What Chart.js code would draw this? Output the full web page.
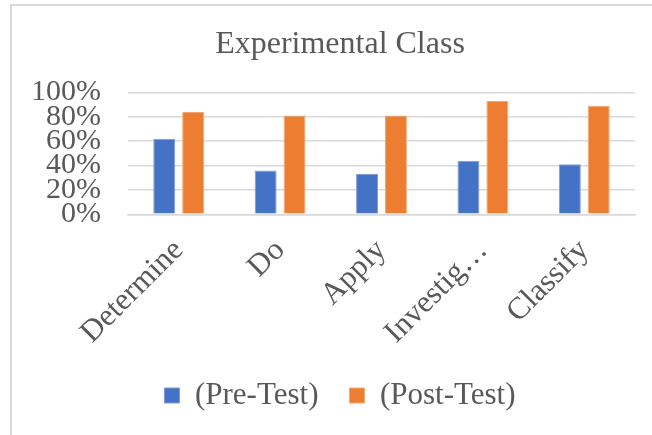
<!DOCTYPE html>
<html>
<head>
<meta charset="utf-8">
<script src="https://cdn.jsdelivr.net/npm/chart.js@4"></script>
<style>
  body { margin: 0; background: #fff; }
  #frame {
    position: absolute; left: 10px; top: 4px; width: 700px; height: 500px;
    border: 2px solid #d9d9d9;
  }
  #chart { position: absolute; left: 0; top: 0; }
</style>
</head>
<body>
<div id="frame"></div>
<canvas id="chart" width="652" height="435"></canvas>
<script>
const categories = ["Determine", "Do", "Apply", "Investig…", "Classify"];
const preTest = [62, 36, 33, 44, 41];
const postTest = [84, 81, 81, 93, 89];
const yTicks = [0, 20, 40, 60, 80, 100];

Chart.defaults.font.family = "'Liberation Serif', 'Times New Roman', serif";
Chart.defaults.color = "#595959";

const ctx = document.getElementById("chart").getContext("2d");

new Chart(ctx, {
  type: "bar",
  data: {
    labels: categories,
    datasets: [
      {
        label: "(Pre-Test)",
        data: preTest,
        backgroundColor: "#4472C4",
        borderColor: "#7f9bd6",
        borderWidth: 1,
        categoryPercentage: 0.57,
        barPercentage: 0.76,
      },
      {
        label: "(Post-Test)",
        data: postTest,
        backgroundColor: "#ED7D31",
        borderColor: "#f4a775",
        borderWidth: 1,
        categoryPercentage: 0.57,
        barPercentage: 0.76,
      },
    ],
  },
  options: {
    responsive: false,
    animation: false,
    devicePixelRatio: 1,
    layout: { padding: { left: 28, right: 0, top: 0, bottom: 14 } },
    plugins: {
      title: {
        display: true,
        text: "Experimental Class",
        font: { size: 32, weight: "normal" },
        color: "#595959",
        padding: { top: 25, bottom: 29 },
      },
      legend: {
        position: "bottom",
        labels: {
          boxWidth: 15,
          boxHeight: 15,
          padding: 31,
          font: { size: 31 },
          color: "#595959",
        },
      },
      tooltip: { enabled: false },
    },
    scales: {
      x: {
        grid: { display: false },
        border: { color: "#d9d9d9", width: 1.5 },
        ticks: {
          autoSkip: false,
          maxRotation: 45,
          minRotation: 45,
          padding: 10,
          font: { size: 31 },
        },
        afterFit: (s) => {
          s.height = 435 - 14 - s.chart.legend.height - 214.3;
        },
      },
      y: {
        min: 0,
        max: 100,
        afterBuildTicks: (s) => {
          s.ticks = yTicks.map((v) => ({ value: v }));
        },
        grid: { color: "#d9d9d9", lineWidth: 1.5, drawTicks: false },
        border: { display: false },
        ticks: {
          autoSkip: false,
          padding: 27,
          font: { size: 30 },
          callback: (v) => v + "%",
        },
        afterFit: (s) => { s.width = 100; },
      },
      y2: {
        position: "right",
        grid: { display: false },
        border: { display: false },
        ticks: { display: false },
        afterFit: (s) => { s.width = 17; },
      },
    },
  },
});
</script>
</body>
</html>
